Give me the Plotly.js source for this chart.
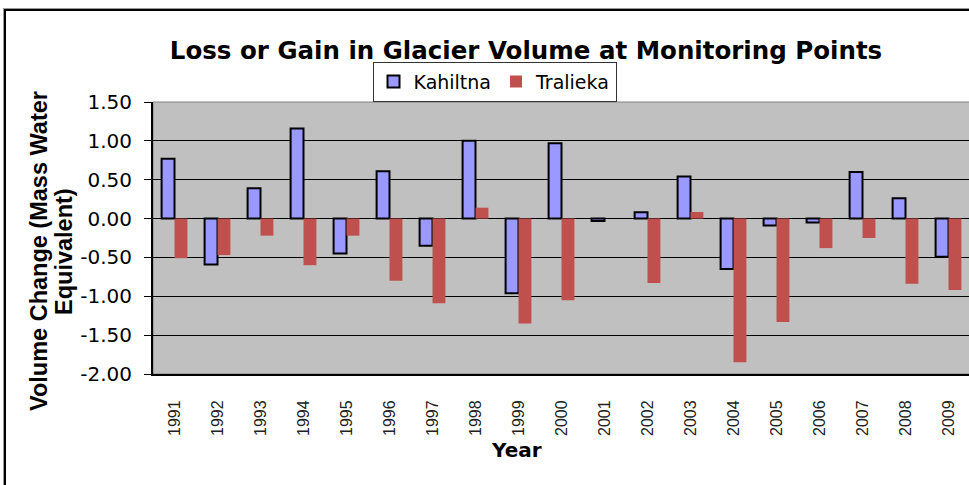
<!DOCTYPE html>
<html>
<head>
<meta charset="utf-8">
<script src="https://cdn.plot.ly/plotly-3.0.1.min.js"></script>
<style>
html,body{margin:0;padding:0;background:#fff;overflow:hidden;width:969px;height:485px;}
#frame{position:absolute;left:4px;top:9px;width:1000px;height:500px;border-left:2px solid #000;border-top:2px solid #000;box-shadow:-1px -1px 0 #999;pointer-events:none;z-index:5;}
#chart{position:absolute;left:0;top:0;}
</style>
</head>
<body>
<div id="chart"></div>
<div id="frame"></div>
<script>
const years = ["1991","1992","1993","1994","1995","1996","1997","1998","1999","2000","2001","2002","2003","2004","2005","2006","2007","2008","2009"];
const kahiltna = [0.77,-0.59,0.39,1.16,-0.45,0.61,-0.35,1.00,-0.96,0.97,-0.03,0.08,0.54,-0.65,-0.09,-0.05,0.60,0.26,-0.49];
const tralieka = [-0.51,-0.47,-0.22,-0.60,-0.22,-0.80,-1.09,0.14,-1.35,-1.05,0.00,-0.83,0.085,-1.85,-1.33,-0.38,-0.25,-0.84,-0.92];
const seriesNames = ["Kahiltna","Tralieka"];
const yTicks = [-2,-1.5,-1,-0.5,0,0.5,1,1.5];
const yTitleLines = ["Volume Change (Mass Water","Equivalent)"];
const xTitle = "Year";

const wide = "DejaVu Sans, Verdana, sans-serif";
const arial = "Liberation Sans, Arial, sans-serif";
const boundaries = years.map((y,i)=>i-0.5).concat([years.length-0.5]);

const traces = [
  {type:'bar', name:seriesNames[0], x:years, y:kahiltna,
   marker:{color:'#9999FF', line:{color:'#000000', width:2}}},
  {type:'bar', name:seriesNames[1], x:years, y:tralieka,
   marker:{color:'#C0504D', line:{color:'#C0504D', width:0}}}
];

const layout = {
  width:972, height:485,
  margin:{l:153, r:2, t:102, b:111},
  paper_bgcolor:'rgba(0,0,0,0)',
  plot_bgcolor:'#C0C0C0',
  barmode:'group', bargap:0.4, bargroupgap:0,
  showlegend:true,
  title:{text:'<b>Loss or Gain in Glacier Volume at Monitoring Points</b>',
         font:{family:wide, size:24.5, color:'#000'}, x:526/972, xanchor:'center', xref:'container',
         y:1-50/485, yanchor:'middle', yref:'container'},
  legend:{orientation:'h', x:0.418, xanchor:'center', y:1.075, yanchor:'middle',
          bordercolor:'#333', borderwidth:1, bgcolor:'#fff',
          font:{family:wide, size:19, color:'#000'}, itemwidth:30, tracegroupgap:0},
  xaxis:{type:'category', range:[-0.5, years.length-0.5], tickangle:-90,
         tickfont:{family:arial, size:16, color:'#222'}, ticks:'', ticklabelstandoff:18,
         showline:true, linecolor:'#000', linewidth:2, mirror:false, showgrid:false},
  xaxis2:{overlaying:'x', anchor:'free', position:2/3.5, range:[-0.5, years.length-0.5],
          tickmode:'array', tickvals:boundaries, ticks:'outside', ticklen:5, tickwidth:1, tickcolor:'#000',
          showticklabels:false, showgrid:false, zeroline:false, showline:false, side:'bottom'},
  yaxis:{range:[-2,1.5], tickmode:'array', tickvals:yTicks, ticktext:yTicks.map(v=>v.toFixed(2)),
         tickfont:{family:wide, size:20, color:'#000'}, ticks:'outside', ticklen:7, tickcolor:'#000',
         ticklabelstandoff:8,
         showgrid:true, gridcolor:'#000', gridwidth:1, zeroline:true, zerolinecolor:'#000', zerolinewidth:1,
         showline:true, linecolor:'#000', linewidth:2},
  annotations:[
    {text:'<b>'+yTitleLines[0]+'</b>', textangle:-90, xref:'paper', yref:'paper',
     x:(39-153)/817, y:(374-251)/272, xanchor:'center', yanchor:'middle', showarrow:false,
     font:{family:arial, size:23.5, color:'#000'}},
    {text:'<b>'+yTitleLines[1]+'</b>', textangle:-90, xref:'paper', yref:'paper',
     x:(64-153)/817, y:(374-252)/272, xanchor:'center', yanchor:'middle', showarrow:false,
     font:{family:arial, size:23.5, color:'#000'}},
    {text:'<b>'+xTitle+'</b>', xref:'paper', yref:'paper',
     x:(516-153)/817, y:(374-450)/272, xanchor:'center', yanchor:'middle', showarrow:false,
     font:{family:wide, size:20, color:'#000'}}
  ],
  shapes:[{type:'rect', xref:'paper', yref:'paper', x0:0, x1:1, y0:0, y1:1, line:{color:'#808080', width:1}, layer:'below'}]
};

Plotly.newPlot('chart', traces, layout, {displayModeBar:false, staticPlot:true});
</script>
</body>
</html>
